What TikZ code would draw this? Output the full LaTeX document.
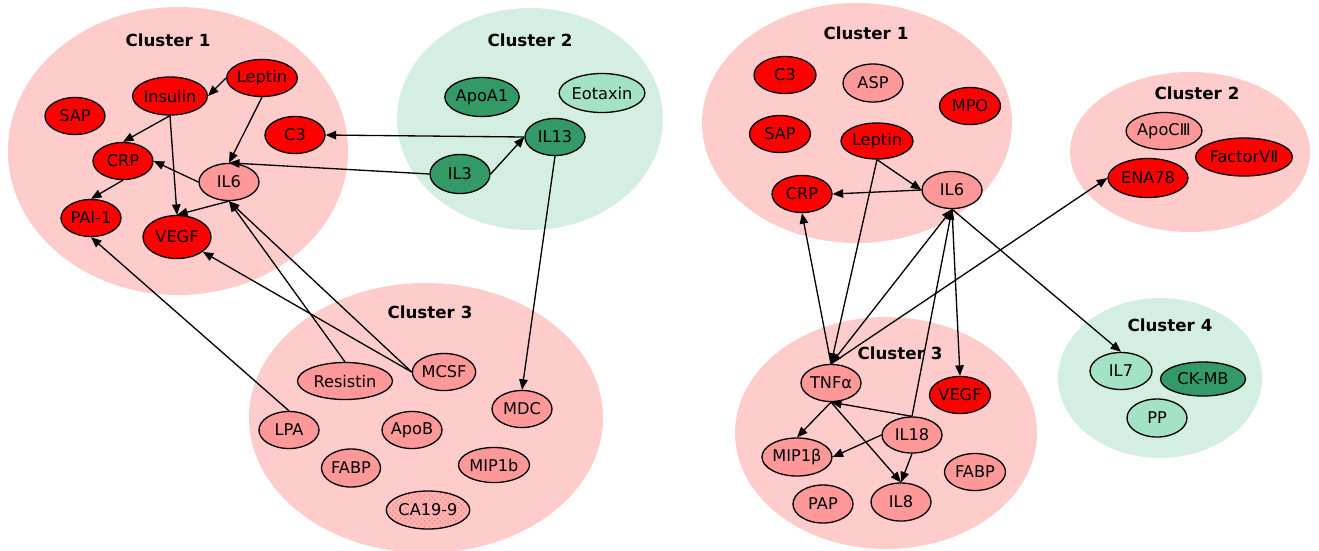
\documentclass[tikz,border=0pt]{standalone}
\usepackage{fontspec}
\setmainfont{DejaVu Sans}
\usetikzlibrary{shapes.geometric,arrows.meta,patterns}

\definecolor{clpink}{HTML}{FFCCCC}
\definecolor{clgreen}{HTML}{D4EFE1}
\definecolor{nred}{HTML}{FF0000}
\definecolor{npink}{HTML}{FF9999}
\definecolor{ngreen}{HTML}{339966}
\definecolor{nlgreen}{HTML}{A3E2C4}

\tikzset{
  bio/.style={ellipse, draw=black, line width=0.75pt, inner sep=0pt,
    minimum width=12mm, minimum height=7.4mm,
    font=\fontsize{9.2}{10}\selectfont},
  redbio/.style={bio, fill=nred},
  pinkbio/.style={bio, fill=npink},
  darkbio/.style={bio, fill=ngreen},
  lightbio/.style={bio, fill=nlgreen},
  sz/.style 2 args={minimum width=#1*0.2mm, minimum height=#2*0.2mm},
  clabel/.style={font=\fontsize{9.5}{11}\selectfont\bfseries},
  link/.style={-{Triangle[length=2.1mm,width=1.7mm]}, line width=0.75pt},
}

\begin{document}
\begin{tikzpicture}[x=0.2mm, y=-0.2mm]
  \useasboundingbox (0,0) rectangle (1319,550);

  % cluster backgrounds
  \fill[clpink]  (178,151)  ellipse [x radius=34mm,   y radius=28.8mm];
  \fill[clgreen] (530,119)  ellipse [x radius=26.6mm, y radius=22.2mm];
  \fill[clpink]  (426,418)  ellipse [x radius=35.4mm, y radius=27mm];
  \fill[clpink]  (857,123)  ellipse [x radius=31mm,   y radius=24mm];
  \fill[clpink]  (1190,152) ellipse [x radius=24mm,   y radius=16mm];
  \fill[clpink]  (886,433)  ellipse [x radius=30.2mm, y radius=23.2mm];
  \fill[clgreen] (1160,378) ellipse [x radius=20.4mm, y radius=16mm];

  \node[clabel] (lc1) at (168,40)  {Cluster 1};
  \node[clabel] (lc2) at (530,40)  {Cluster 2};
  \node[clabel] (lc3) at (430,312) {Cluster 3};
  \node[clabel] (rc1) at (866,33)  {Cluster 1};
  \node[clabel] (rc2) at (1197,93) {Cluster 2};
  \node[clabel] (rc3) at (900,353) {Cluster 3};
  \node[clabel] (rc4) at (1170,325) {Cluster 4};

  % left: cluster 1
  \node[redbio, sz={67}{37}] (leptin) at (262,78) {Leptin};
  \node[redbio, sz={69}{38}] (insulin) at (170,96) {Insulin};
  \node[redbio] (sap) at (75,116) {SAP};
  \node[redbio] (c3) at (295,135) {C3};
  \node[redbio] (crp) at (123,161) {CRP};
  \node[pinkbio] (il6) at (229,182) {IL6};
  \node[redbio] (pai) at (91,218) {PAI-1};
  \node[redbio, sz={68}{43}] (vegf) at (177,237) {VEGF};

  % left: cluster 2
  \node[darkbio, sz={72}{39}] (apoa) at (482,97) {ApoA1};
  \node[lightbio, sz={84}{39}] (eotaxin) at (602,93) {Eotaxin};
  \node[darkbio] (il13) at (555,137) {IL13};
  \node[darkbio, sz={60}{39}] (il3) at (460,174) {IL3};

  % left: cluster 3
  \node[pinkbio, sz={58}{37}] (mcsf) at (444,372) {MCSF};
  \node[pinkbio, sz={95}{37}] (resistin) at (345,381) {Resistin};
  \node[pinkbio] (mdc) at (522,409) {MDC};
  \node[pinkbio] (lpa) at (289,430) {LPA};
  \node[pinkbio] (apob) at (412,430) {ApoB};
  \node[pinkbio, sz={59}{38}] (fabp) at (351,468) {FABP};
  \node[pinkbio, sz={71}{35}] (mipb) at (494,465) {MIP1b};
  \node[bio, sz={83}{38}, preaction={fill=npink!75!white},
    pattern=crosshatch dots, pattern color=npink!85!red] (ca) at (428,510) {CA19-9};

  % right: cluster 1
  \node[redbio, sz={62}{37}] (rcthree) at (785,75) {C3};
  \node[pinkbio, sz={60}{38}] (asp) at (873,83) {ASP};
  \node[redbio, sz={61}{37}] (mpo) at (970,106) {MPO};
  \node[redbio, sz={61}{37}] (rsap) at (780,134) {SAP};
  \node[redbio, sz={72}{36}] (rleptin) at (877,141) {Leptin};
  \node[redbio] (rcrp) at (802,194) {CRP};
  \node[pinkbio] (ril6) at (952,190) {IL6};

  % right: cluster 2
  \node[pinkbio, sz={75}{37}] (apoc) at (1164,131) {ApoCⅢ};
  \node[redbio, sz={83}{38}] (factor) at (1244,157) {FactorVⅡ};
  \node[redbio, sz={80}{39}] (ena) at (1148,178) {ENA78};

  % right: cluster 3
  \node[pinkbio] (tnfa) at (831,383) {TNFα};
  \node[redbio, sz={61}{37}] (rvegf) at (960,395) {VEGF};
  \node[pinkbio, sz={60}{36}] (il18) at (912,435) {IL18};
  \node[pinkbio, sz={70}{38}] (mipbeta) at (797,457) {MIP1β};
  \node[pinkbio, sz={61}{37}] (rfabp) at (975,472) {FABP};
  \node[pinkbio, sz={60}{38}] (pap) at (823,504) {PAP};
  \node[pinkbio, sz={60}{38}] (il8) at (901,502) {IL8};

  % right: cluster 4
  \node[lightbio, sz={62}{37}] (il7) at (1121,371) {IL7};
  \node[darkbio, sz={85}{34}] (ckmb) at (1203,379) {CK-MB};
  \node[lightbio, sz={60}{38}] (pp) at (1157,418) {PP};

  % left links
  \draw[link] (leptin.west) -- (insulin.east);
  \draw[link] (leptin.south) -- (il6.north);
  \draw[link] (insulin.south) -- (crp.north);
  \draw[link] (insulin.south) -- (vegf.north);
  \draw[link] (il6.west) -- (crp.east);
  \draw[link] (il6.south) -- (vegf.north);
  \draw[link] (crp.south) -- (pai.north);
  \draw[link] (il13.west) -- (c3.east);
  \draw[link] (il3.west) -- (il6.north);
  \draw[link] (il3.east) -- (il13.west);
  \draw[link] (il13.south) -- (mdc.north);
  \draw[link] (lpa.north) -- (pai.south);
  \draw[link] (mcsf.west) -- (vegf);
  \draw[link] (mcsf.west) -- (il6.south);
  \draw[link] (resistin.north) -- (il6.south);

  % right links
  \draw[link] (rleptin.south) -- (ril6.west);
  \draw[link] (ril6.west) -- (rcrp.east);
  \draw[link] (rleptin.south) -- (tnfa.north);
  \draw[link] (tnfa.north) -- (rcrp.south);
  \draw[link, {Triangle[length=2.1mm,width=1.7mm]}-{Triangle[length=2.1mm,width=1.7mm]}] (tnfa.north) -- (ril6.south);
  \draw[link] (tnfa.north) -- (ena.west);
  \draw[link] (il18.north) -- (ril6.south);
  \draw[link] (ril6.south) -- (rvegf.north);
  \draw[link] (ril6.south) -- (il7.north);
  \draw[link] (il18.north) -- (tnfa.south);
  \draw[link] (tnfa.south) -- (mipbeta.north);
  \draw[link] (tnfa.south) -- (il8.north);
  \draw[link] (il18.west) -- (mipbeta.east);
  \draw[link] (il18.south) -- (il8.north);
\end{tikzpicture}
\end{document}
